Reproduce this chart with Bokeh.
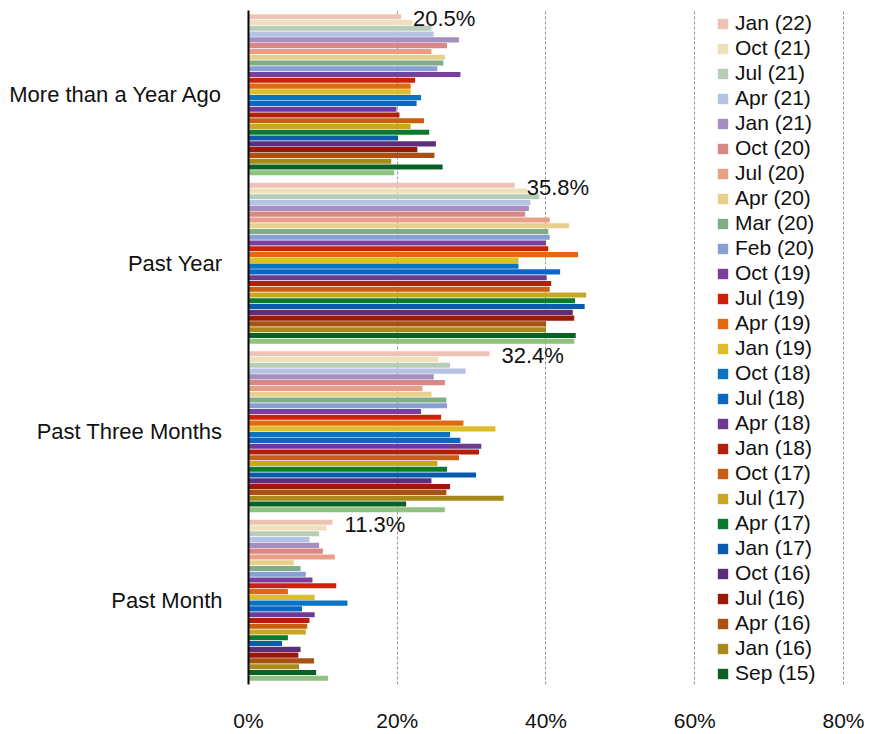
from bokeh.plotting import figure
from bokeh.models import (ColumnDataSource, FactorRange, Range1d, Legend, LegendItem,
                          FixedTicker, PrintfTickFormatter)
from bokeh.transform import dodge
from bokeh.core.properties import value
from bokeh.embed import file_html
from bokeh.resources import INLINE

# ---------------- data ----------------
categories = ["More than a Year Ago", "Past Year", "Past Three Months", "Past Month"]

series = ["Jan (22)", "Oct (21)", "Jul (21)", "Apr (21)", "Jan (21)", "Oct (20)", "Jul (20)",
          "Apr (20)", "Mar (20)", "Feb (20)", "Oct (19)", "Jul (19)", "Apr (19)", "Jan (19)",
          "Oct (18)", "Jul (18)", "Apr (18)", "Jan (18)", "Oct (17)", "Jul (17)", "Apr (17)",
          "Jan (17)", "Oct (16)", "Jul (16)", "Apr (16)", "Jan (16)", "Sep (15)", "(unlabelled)"]

colors = ["#EFC2B6", "#EEE0B9", "#B8CDB8", "#B5C2E3", "#A68EBE", "#D78886", "#E89E87",
          "#E7D08B", "#80AD88", "#879FD5", "#7A3F9E", "#CB2209", "#E06A12", "#DDBD29",
          "#0B74C2", "#0B66C4", "#6F3A92", "#B31F0B", "#C75E12", "#C9A723", "#0A7A2C",
          "#0A5BAB", "#5D2E7A", "#9A190A", "#A85111", "#A88A1B", "#0A6125", "#8FC17F"]

more_than_year = [20.5, 22.0, 24.6, 24.9, 28.3, 26.7, 24.6, 26.4, 26.2, 25.4, 28.5, 22.4, 21.8, 21.8,
                  23.2, 22.6, 19.9, 20.3, 23.6, 21.8, 24.3, 20.1, 25.2, 22.7, 25.0, 19.2, 26.1, 19.6]
past_year = [35.8, 37.5, 39.1, 37.9, 37.7, 37.2, 40.5, 43.1, 40.3, 40.5, 40.0, 40.3, 44.3, 36.3,
             36.3, 41.9, 40.1, 40.7, 40.5, 45.4, 43.9, 45.2, 43.6, 43.8, 40.0, 40.0, 44.0, 43.8]
past_three_months = [32.4, 25.5, 27.1, 29.2, 24.9, 26.4, 23.4, 24.6, 26.6, 26.7, 23.2, 25.9, 28.9, 33.2,
                     27.1, 28.5, 31.3, 31.0, 28.3, 25.4, 26.7, 30.6, 24.6, 27.1, 26.6, 34.3, 21.2, 26.4]
past_month = [11.3, 10.5, 9.5, 8.2, 9.5, 10.0, 11.6, 6.1, 7.0, 7.7, 8.6, 11.8, 5.3, 8.9,
              13.3, 7.2, 8.9, 8.2, 7.9, 7.7, 5.3, 4.5, 7.0, 6.7, 8.8, 6.8, 9.1, 10.7]

x_ticks = [0, 20, 40, 60, 80]

# ---------------- build ----------------
rows = [more_than_year, past_year, past_three_months, past_month]
data = {"cat": categories}
for i, s in enumerate(series):
    data["s%d" % i] = [r[i] for r in rows]
source = ColumnDataSource(data)

factors = list(reversed(categories))  # first factor is drawn at the bottom
p = figure(width=869, height=734, y_range=FactorRange(*factors), x_range=Range1d(0, 83.5),
           output_backend="svg", toolbar_location=None,
           min_border_left=248, min_border_right=0, min_border_top=10, min_border_bottom=46)
p.outline_line_color = None
p.background_fill_color = "white"

n = len(series)
span = 0.96
pitch = span / n
items = []
for i, s in enumerate(series):
    off = span / 2 - (i + 0.5) * pitch
    r = p.hbar(y=dodge("cat", off, range=p.y_range), left=0, right="s%d" % i,
               height=pitch * 0.88, source=source, fill_color=colors[i], line_color=None)
    if s != "(unlabelled)":
        items.append(LegendItem(label=s, renderers=[r]))

# value labels for the first series
lab_src = ColumnDataSource(dict(cat=categories, x=[r[0] for r in rows],
                                label=["%.1f%%" % r[0] for r in rows]))
p.text(x="x", y=dodge("cat", span / 2 - 0.5 * pitch, range=p.y_range), text="label",
       source=lab_src, x_offset=12, y_offset=2, text_baseline="middle", text_align="left",
       text_font=value("Liberation Sans"), text_font_size="22px", text_color="#111111")

# axes
p.xaxis.ticker = FixedTicker(ticks=x_ticks)
p.xaxis.formatter = PrintfTickFormatter(format="%d%%")
p.xaxis.axis_line_color = None
p.xaxis.major_tick_line_color = None
p.xaxis.minor_tick_line_color = None
p.xaxis.major_label_standoff = 18
p.xaxis.major_label_text_font = "Liberation Sans"
p.xaxis.major_label_text_font_size = "21px"
p.xaxis.major_label_text_color = "#111111"

p.yaxis.axis_line_color = "black"
p.yaxis.axis_line_width = 2
p.yaxis.major_tick_line_color = None
p.yaxis.minor_tick_line_color = None
p.yaxis.major_label_standoff = 20
p.yaxis.major_label_text_font = "Liberation Sans"
p.yaxis.major_label_text_font_size = "22px"
p.yaxis.major_label_text_color = "#111111"

p.xgrid.ticker = FixedTicker(ticks=x_ticks[1:])
p.xgrid.grid_line_color = "#999999"
p.xgrid.grid_line_dash = "3 2"
p.xgrid.grid_line_width = 1
p.ygrid.grid_line_color = None

legend = Legend(items=items, location=(468, -1), orientation="vertical",
                label_text_font="Liberation Sans", label_text_font_size="21px",
                label_text_color="#111111", glyph_width=13, glyph_height=13,
                label_height=20, spacing=1, padding=0, margin=0, label_standoff=6,
                border_line_color=None, background_fill_alpha=0)
p.add_layout(legend, "center")

open("out.html", "w").write(file_html(p, INLINE))
